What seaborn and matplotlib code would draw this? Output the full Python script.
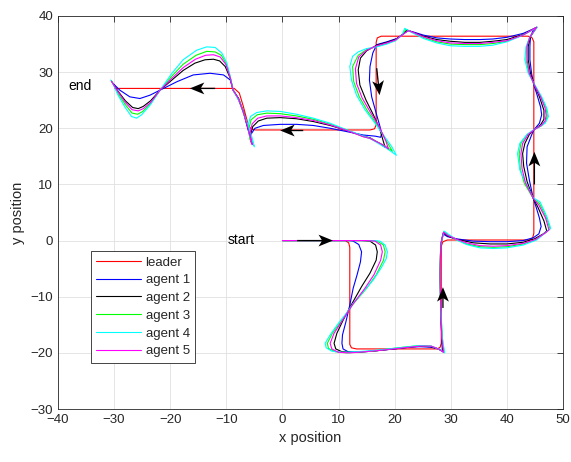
# Trajetórias do líder e dos 5 agentes (formação) - recriação do gráfico
import matplotlib
matplotlib.use('Agg')
import matplotlib.pyplot as plt
import seaborn as sns
import pandas as pd

# --- Dados (x, y) ---
leader = [(0, 0), (11.2, 0), (11.8, -0.4), (12.0, -1.2), (12.0, -18.5), (12.3, -19.1), (13.2, -19.3),
          (27.6, -19.3), (28.1, -19.0), (28.3, -18.3), (28.3, -1.0), (28.6, -0.2), (29.4, 0.1),
          (44.0, 0.1), (44.6, 0.5), (44.8, 1.3), (44.8, 35.4), (44.5, 36.1), (43.8, 36.4),
          (17.6, 36.4), (16.9, 36.1), (16.7, 35.3), (16.7, 20.6), (16.4, 19.9), (15.6, 19.7),
          (-4.8, 19.7), (-5.6, 19.9), (-6.1, 20.6), (-7.0, 24.0), (-7.7, 26.3), (-8.6, 27.1),
          (-29.9, 27.1)]

agent1 = [(0, 0), (8, 0), (12.0, 0), (12.6, -0.1), (13.6, -0.7), (14.1, -2.0), (13.9, -3.8), (13.3, -6.1),
          (12.6, -8.5), (12.0, -11.5), (11.3, -14.5), (10.7, -16.8), (10.6, -18.3), (10.8, -19.3),
          (11.7, -19.8), (13.2, -19.9), (16.0, -19.7), (19.8, -19.3), (22.5, -19.0), (24.5, -18.9),
          (26.5, -19.0), (27.8, -19.3), (28.5, -19.7), (28.4, -17.4), (28.2, -12.1), (28.1, -6.1),
          (28.2, -0.8), (28.6, 1.2), (29.4, 0.7), (31.1, 0.3), (34.0, -0.1), (37.0, -0.2), (40.0, -0.2),
          (42.9, 0.0), (44.7, 0.5), (45.7, 1.2), (46.1, 2.5), (45.8, 4.0), (45.2, 6.0), (44.7, 7.5),
          (44.0, 10.8), (43.5, 13.8), (43.6, 16.7), (44.4, 18.8), (44.8, 19.7), (45.8, 20.9),
          (46.2, 22.4), (46.0, 23.8), (45.3, 26.2), (44.8, 27.7), (44.4, 29.8), (44.1, 32.2),
          (44.1, 34.6), (44.2, 36.3), (44.7, 37.5), (45.2, 37.9), (42.9, 36.9), (40.0, 36.2),
          (37.5, 35.9), (35.2, 35.8), (32.5, 35.8), (29.9, 35.9), (27.5, 36.1), (25.1, 36.6),
          (23.5, 37.1), (22.4, 37.4), (20.4, 36.0), (18.6, 35.4), (16.8, 34.9), (16.1, 33.4),
          (15.6, 31.0), (15.5, 28.6), (15.9, 25.6), (16.7, 22.7), (17.3, 20.6), (17.7, 19.1),
          (17.5, 18.4), (16.5, 18.6), (14.4, 18.8), (11.5, 19.4), (8.5, 20.0), (5.5, 20.5), (2.5, 20.7),
          (-0.4, 20.7), (-3.4, 20.5), (-4.9, 20.0), (-5.5, 19.1), (-5.7, 18.2), (-6.2, 20.0),
          (-7.0, 23.0), (-8.0, 25.5), (-8.8, 26.8), (-9.3, 28.6), (-10.5, 29.5), (-12.9, 29.8),
          (-15.9, 29.5), (-18.8, 28.3), (-21.8, 26.8), (-23.6, 25.9), (-25.4, 25.3), (-27.2, 25.6),
          (-29.0, 26.8), (-30.2, 28.0)]

agent2 = [(0, 0), (8, 0), (14.0, 0), (15.6, -0.1), (16.6, -0.8), (16.9, -2.0), (16.7, -3.5), (15.6, -5.8),
          (14.1, -8.2), (12.3, -11.4), (10.8, -14.2), (9.7, -16.5), (9.2, -18.3), (9.5, -19.3),
          (10.6, -19.8), (12.6, -19.9), (16.0, -19.7), (19.8, -19.3), (22.5, -19.0), (24.5, -18.8),
          (26.5, -18.9), (27.8, -19.3), (28.6, -19.8), (28.4, -17.4), (28.2, -12.1), (28.1, -6.1),
          (28.2, -0.8), (28.7, 1.4), (29.5, 0.8), (31.1, 0.2), (34.0, -0.4), (37.0, -0.6), (40.0, -0.6),
          (42.9, -0.3), (44.9, 0.3), (46.5, 1.2), (47.1, 1.7), (46.6, 3.5), (45.5, 6.0), (44.7, 7.5),
          (43.6, 10.5), (43.0, 13.2), (42.8, 15.5), (43.2, 17.3), (44.0, 18.9), (44.8, 19.7),
          (46.0, 20.6), (46.6, 21.6), (46.6, 23.2), (45.8, 25.6), (44.9, 27.7), (44.2, 29.8),
          (43.8, 32.2), (43.8, 34.6), (44.2, 36.3), (45.3, 38.0), (42.9, 36.7), (40.0, 35.8),
          (37.5, 35.5), (35.2, 35.3), (32.5, 35.3), (29.9, 35.5), (27.5, 35.8), (25.1, 36.4),
          (23.5, 37.0), (22.2, 37.5), (21.0, 36.4), (20.1, 35.8), (18.6, 35.3), (16.8, 34.8),
          (15.0, 33.8), (13.9, 32.5), (13.5, 30.4), (13.8, 27.7), (14.9, 25.0), (16.2, 22.4),
          (17.3, 20.0), (18.0, 17.6), (18.3, 16.6), (17.5, 17.2), (15.6, 18.3), (14.4, 18.6),
          (11.5, 19.6), (8.5, 20.5), (5.5, 21.2), (2.5, 21.7), (-0.4, 21.9), (-2.8, 21.8), (-4.3, 21.3),
          (-5.3, 20.3), (-5.7, 18.8), (-5.5, 17.3), (-6.0, 19.5), (-6.8, 22.5), (-7.8, 25.3),
          (-8.8, 26.8), (-9.3, 28.9), (-10.2, 31.0), (-11.2, 32.0), (-12.3, 32.3), (-13.8, 32.2),
          (-15.6, 31.6), (-17.7, 30.3), (-19.7, 28.6), (-21.8, 26.8), (-23.5, 24.9), (-24.8, 23.9),
          (-25.7, 23.5), (-26.7, 23.7), (-28.0, 24.9), (-29.3, 26.6), (-30.4, 28.3)]

agent3 = [(0, 0), (8, 0), (15.4, 0), (16.9, -0.1), (18.0, -0.8), (18.3, -2.0), (18.0, -3.5), (16.7, -6.1),
          (15.0, -8.5), (12.6, -11.3), (10.6, -14.2), (8.9, -16.5), (8.0, -18.3), (8.2, -19.2),
          (9.4, -19.8), (11.5, -20.0), (16.0, -19.7), (19.8, -19.2), (22.5, -18.9), (24.5, -18.7),
          (26.5, -18.8), (27.8, -19.3), (28.8, -19.9), (28.5, -17.4), (28.2, -12.1), (28.1, -6.1),
          (28.2, -0.8), (28.8, 1.6), (29.6, 1.0), (31.1, 0.1), (32.8, -0.6), (35.2, -1.1), (37.6, -1.2),
          (40.0, -1.1), (42.9, -0.6), (45.2, 0.2), (47.0, 1.5), (47.7, 2.1), (47.0, 4.2), (45.8, 6.6),
          (44.7, 7.5), (43.1, 10.2), (42.4, 12.7), (42.2, 15.5), (42.5, 17.3), (43.6, 18.9),
          (44.8, 19.7), (46.1, 20.4), (46.9, 21.1), (47.2, 22.2), (47.0, 23.6), (46.1, 25.6),
          (44.9, 27.7), (43.9, 29.8), (43.4, 32.2), (43.5, 34.6), (44.1, 36.3), (45.4, 38.0),
          (42.9, 36.6), (40.0, 35.5), (37.5, 35.1), (35.2, 34.9), (32.5, 34.9), (29.9, 35.0),
          (27.5, 35.4), (25.1, 36.2), (23.3, 37.0), (22.0, 37.6), (21.3, 36.6), (20.1, 35.6),
          (18.6, 35.1), (16.8, 34.6), (15.0, 34.0), (13.5, 33.0), (12.5, 31.0), (12.7, 28.3),
          (13.7, 25.6), (15.2, 23.0), (16.9, 20.6), (18.2, 18.3), (19.6, 15.9), (18.4, 16.8),
          (15.6, 18.2), (14.4, 18.5), (11.5, 19.7), (8.5, 20.7), (5.5, 21.6), (2.5, 22.2), (-0.4, 22.6),
          (-2.8, 22.7), (-4.5, 22.4), (-5.6, 21.5), (-6.0, 19.8), (-5.8, 18.0), (-5.1, 16.9),
          (-5.8, 19.3), (-6.7, 22.0), (-7.7, 25.0), (-8.8, 26.8), (-9.3, 29.1), (-10.0, 31.5),
          (-10.9, 33.0), (-12.0, 33.6), (-13.5, 33.7), (-15.4, 33.0), (-17.7, 31.4), (-19.7, 29.3),
          (-21.8, 26.8), (-23.5, 24.4), (-24.9, 23.0), (-25.8, 22.5), (-26.8, 22.7), (-28.0, 24.2),
          (-29.3, 26.2), (-30.5, 28.5)]

agent4 = [(0, 0), (8, 0), (16.0, 0), (17.4, -0.1), (18.3, -0.8), (18.7, -2.0), (18.5, -3.2), (17.7, -4.7),
          (16.2, -7.0), (14.4, -9.1), (12.6, -11.2), (11.5, -12.8), (10.0, -14.7), (8.5, -16.8),
          (7.6, -18.3), (7.8, -19.1), (8.8, -19.7), (10.8, -19.9), (13.2, -19.8), (16.0, -19.6),
          (19.8, -19.2), (22.5, -18.9), (24.5, -18.7), (26.5, -18.8), (27.8, -19.3), (28.9, -20.0),
          (28.5, -17.4), (28.2, -12.1), (28.1, -6.1), (28.2, -0.8), (28.8, 1.7), (29.6, 1.1),
          (31.1, 0.1), (32.8, -0.7), (35.2, -1.3), (37.6, -1.4), (40.0, -1.3), (42.9, -0.8), (45.3, 0.1),
          (47.1, 1.6), (47.8, 2.2), (47.1, 4.3), (45.9, 6.9), (44.7, 7.6), (43.5, 10.0), (42.3, 12.6),
          (41.9, 15.5), (42.3, 17.3), (43.5, 18.8), (44.7, 19.7), (46.0, 20.4), (46.8, 20.9),
          (47.4, 22.1), (47.1, 23.6), (46.2, 25.6), (45.0, 27.7), (43.8, 29.8), (43.2, 32.2),
          (43.4, 34.5), (44.1, 36.3), (45.4, 38.0), (42.9, 36.6), (40.0, 35.4), (37.5, 34.8),
          (35.2, 34.6), (32.5, 34.6), (29.9, 34.7), (27.5, 35.2), (25.1, 36.0), (23.2, 37.0),
          (21.8, 37.8), (21.3, 36.6), (20.1, 35.6), (18.6, 35.0), (16.8, 34.5), (15.0, 34.2),
          (13.5, 33.6), (12.5, 32.8), (12.0, 31.0), (12.3, 28.6), (13.2, 25.9), (14.7, 23.3),
          (16.5, 20.9), (18.0, 18.8), (19.5, 16.7), (20.3, 15.2), (18.6, 16.4), (15.6, 18.2),
          (11.5, 19.7), (8.5, 20.9), (5.5, 21.8), (2.5, 22.5), (-0.4, 23.0), (-2.8, 23.1), (-4.6, 22.8),
          (-5.7, 22.1), (-6.1, 20.6), (-5.9, 18.8), (-5.0, 16.7), (-5.6, 19.0), (-6.6, 21.8),
          (-7.6, 24.6), (-8.8, 26.8), (-9.3, 29.2), (-9.9, 31.6), (-10.8, 33.4), (-12.0, 34.4),
          (-13.5, 34.5), (-15.3, 33.9), (-17.7, 32.2), (-19.7, 29.8), (-21.8, 26.8), (-23.6, 24.1),
          (-25.1, 22.4), (-26.0, 21.8), (-26.9, 22.1), (-28.1, 23.8), (-29.3, 25.9), (-30.1, 27.7),
          (-30.6, 28.6)]

agent5 = [(0, 0), (8, 0), (15.0, 0), (16.5, -0.1), (17.5, -0.8), (17.8, -2.0), (17.5, -3.5), (16.3, -6.1),
          (14.7, -8.5), (12.5, -11.4), (10.7, -14.2), (9.2, -16.5), (8.5, -18.3), (8.8, -19.3),
          (10.0, -19.9), (12.0, -20.0), (16.0, -19.7), (19.8, -19.3), (22.5, -19.0), (24.5, -18.8),
          (26.5, -18.8), (27.8, -19.3), (28.7, -19.9), (28.4, -17.4), (28.2, -12.1), (28.1, -6.1),
          (28.2, -0.8), (28.7, 1.5), (29.5, 0.9), (31.1, 0.2), (32.8, -0.4), (35.2, -0.9), (37.6, -1.0),
          (40.0, -0.9), (42.9, -0.5), (45.1, 0.2), (46.9, 1.4), (47.5, 1.9), (46.9, 4.0), (45.7, 6.3),
          (44.7, 7.5), (43.3, 10.3), (42.7, 12.8), (42.5, 15.5), (42.8, 17.3), (43.8, 18.9),
          (44.8, 19.7), (46.1, 20.5), (46.8, 21.3), (47.0, 22.3), (46.8, 23.6), (46.0, 25.6),
          (44.9, 27.7), (44.0, 29.8), (43.6, 32.2), (43.6, 34.6), (44.1, 36.3), (45.3, 38.0),
          (42.9, 36.6), (40.0, 35.6), (37.5, 35.3), (35.2, 35.1), (32.5, 35.1), (29.9, 35.2),
          (27.5, 35.6), (25.1, 36.3), (23.5, 37.0), (22.4, 37.4), (21.2, 36.5), (20.1, 35.7),
          (18.6, 35.2), (16.8, 34.7), (15.0, 33.9), (13.6, 32.7), (13.0, 30.6), (13.2, 28.0),
          (14.2, 25.4), (15.7, 22.8), (17.2, 20.4), (18.4, 17.8), (18.9, 16.3), (18.0, 17.0),
          (15.6, 18.2), (14.4, 18.5), (11.5, 19.6), (8.5, 20.6), (5.5, 21.4), (2.5, 21.9), (-0.4, 22.2),
          (-2.8, 22.2), (-4.4, 21.8), (-5.4, 20.8), (-5.8, 19.0), (-5.4, 17.1), (-6.0, 19.5),
          (-6.8, 22.3), (-7.8, 25.2), (-8.8, 26.8), (-9.3, 29.0), (-10.1, 31.4), (-11.1, 32.7),
          (-12.3, 33.1), (-13.7, 33.0), (-15.5, 32.3), (-17.7, 30.8), (-19.7, 28.9), (-21.8, 26.8),
          (-23.5, 24.6), (-24.8, 23.5), (-25.7, 23.1), (-26.8, 23.3), (-28.0, 24.6), (-29.3, 26.5),
          (-30.5, 28.4)]

names = ['leader', 'agent 1', 'agent 2', 'agent 3', 'agent 4', 'agent 5']
colors = ['#ff0000', '#0000ff', '#000000', '#00ff00', '#00ffff', '#ff00ff']

# setas de direção: (cauda), (ponta)
arrow_tails = [(2.6, 0.0), (28.6, -12.0), (44.9, 10.0), (16.8, 30.7), (3.7, 19.6), (-12.0, 27.1)]
arrow_tips = [(9.0, 0.0), (28.6, -8.3), (44.9, 15.8), (17.3, 25.9), (-0.4, 19.6), (-16.5, 27.1)]

# --- Figura ---
sns.set_style('white')
plt.rcParams['font.family'] = ['Liberation Sans', 'DejaVu Sans']

fig = plt.figure(figsize=(5.71, 4.62), dpi=100)
ax = fig.add_axes([0.1016, 0.1147, 0.8844, 0.8507])

paths = [leader, agent1, agent2, agent3, agent4, agent5]
for pts, name, c in zip(paths, names, colors):
    df = pd.DataFrame(pts, columns=['x', 'y'])
    sns.lineplot(data=df, x='x', y='y', sort=False, estimator=None, color=c,
                 linewidth=0.8, label=name, ax=ax)

# setas estilo quiver (ponta com recorte)
tx = [t[0] for t in arrow_tails]
ty = [t[1] for t in arrow_tails]
u = [p[0] - t[0] for t, p in zip(arrow_tails, arrow_tips)]
v = [p[1] - t[1] for t, p in zip(arrow_tails, arrow_tips)]
ax.quiver(tx, ty, u, v, angles='xy', scale_units='xy', scale=1, color='k',
          width=0.0026, headwidth=9, headlength=11, headaxislength=8.5, zorder=5)

ax.text(-38.2, 27.5, 'end', fontsize=10, va='center', ha='left', color='k')
ax.text(-9.7, 0.1, 'start', fontsize=10, va='center', ha='left', color='k')

ax.set_xlim(-40, 50)
ax.set_ylim(-30, 40)
ax.set_xticks(range(-40, 51, 10))
ax.set_yticks(range(-30, 41, 10))
ax.set_xlabel('x position', fontsize=10.5, color='#262626')
ax.set_ylabel('y position', fontsize=10.5, color='#262626')
ax.grid(True, color='#e0e0e0', linewidth=0.6)
ax.set_axisbelow(True)
ax.tick_params(direction='in', length=4, width=0.6, top=True, right=True,
               labelsize=9.5, colors='#262626')
for s in ax.spines.values():
    s.set_color('#262626')
    s.set_linewidth(0.6)

leg = ax.legend(loc='upper left', bbox_to_anchor=(0.065, 0.402), fontsize=9.5,
                frameon=True, fancybox=False, edgecolor='#262626', framealpha=1,
                handlelength=3.4, handletextpad=0.35, labelspacing=0.42, borderpad=0.4,
                borderaxespad=0)
leg.get_frame().set_linewidth(0.6)

plt.savefig('out.png', dpi=100)
